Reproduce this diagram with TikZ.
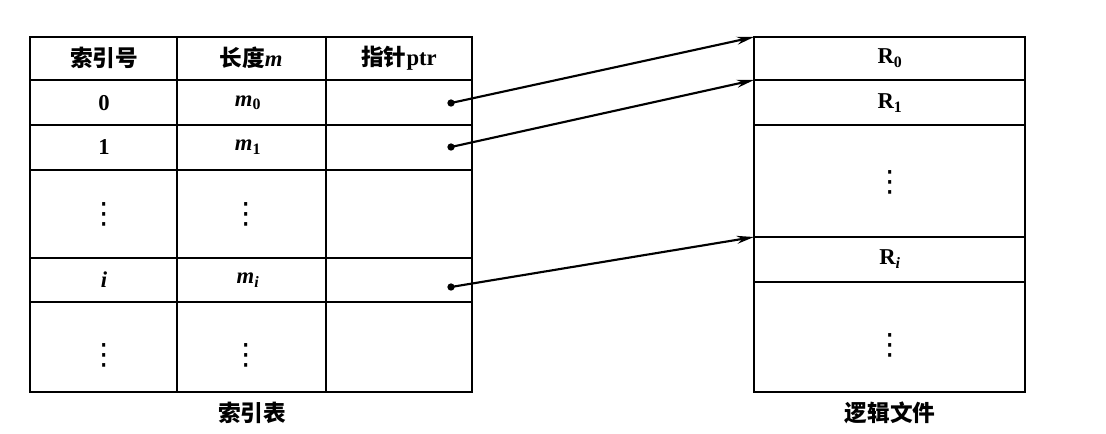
\documentclass[tikz,border=0pt]{standalone}
\usepackage{fontspec}
\setmainfont{Liberation Serif}
\newfontfamily\cjk{Noto Sans CJK SC}
\newfontfamily\symfont{DejaVu Sans}
\usetikzlibrary{arrows.meta}
\tikzset{every picture/.style={line width=0.75pt}}
\tikzset{
  cell/.style={inner sep=0.75pt, font=\fontsize{17}{19}\selectfont\bfseries},
  ptrdot/.style={circle, fill=black, inner sep=0pt, minimum size=5.5pt},
  ptrarrow/.style={line width=1.6, -{Stealth[length=13pt,width=6pt]}}
}
\newcommand{\mv}[1]{\textit{m}\textsubscript{#1}}
\newcommand{\vdotsx}{{\symfont\mdseries\fontsize{22}{24}\selectfont ⋮}}

\begin{document}
\begin{tikzpicture}[x=0.75pt,y=0.75pt,yscale=-1,xscale=1]
\useasboundingbox (0,0) rectangle (1106,433);

%Shape: Rectangle [index table]
\draw  [line width=2.2]  (30,37) -- (472,37) -- (472,392) -- (30,392) -- cycle ;
%Straight Lines [index table rows]
\draw [line width=1.5]   (30,80) -- (472,80) ;
\draw [line width=1.5]   (30,125) -- (472,125) ;
\draw [line width=1.5]   (30,170) -- (472,170) ;
\draw [line width=1.5]   (30,258) -- (472,258) ;
\draw [line width=1.5]   (30,302) -- (472,302) ;
%Straight Lines [index table columns]
\draw [line width=1.5]   (177,37) -- (177,392) ;
\draw [line width=1.5]   (326,37) -- (326,392) ;

%Shape: Rectangle [logic file]
\draw  [line width=2.2]  (754,37) -- (1025,37) -- (1025,392) -- (754,392) -- cycle ;
%Straight Lines [logic file records]
\draw [line width=1.5]   (754,80) -- (1025,80) ;
\draw [line width=1.5]   (754,125) -- (1025,125) ;
\draw [line width=1.5]   (754,237) -- (1025,237) ;
\draw [line width=1.5]   (754,282) -- (1025,282) ;

% record start points
\coordinate (rec0) at (754,37);
\coordinate (rec1) at (754,80);
\coordinate (reci) at (754,237);

% Text Node
\draw (104,58) node (hidx) [cell]   {\cjk 索引号};
% Text Node
\draw (251,58) node (hlen) [cell]   {{\cjk 长度}\textit{m}};
% Text Node
\draw (399,58) node (hptr) [cell]   {{\cjk 指针}ptr};
% Text Node
\draw (104,103) node (idx0) [cell]   {0};
% Text Node
\draw (248,103) node (len0) [cell]   {\mv{0}};
% Text Node
\draw (104,147) node (idx1) [cell]   {1};
% Text Node
\draw (248,147) node (len1) [cell]   {\mv{1}};
% Text Node
\draw (104,214) node (idxa) [cell]   {\vdotsx};
% Text Node
\draw (246,214) node (lena) [cell]   {\vdotsx};
% Text Node
\draw (104,280) node (idxi) [cell]   {\textit{i}};
% Text Node
\draw (248,280) node (leni) [cell]   {\mv{\textit{i}}};
% Text Node
\draw (104,355) node (idxb) [cell]   {\vdotsx};
% Text Node
\draw (246,355) node (lenb) [cell]   {\vdotsx};
% Text Node
\draw (252,413) node (tabcap) [cell]   {\cjk 索引表};

% Text Node
\draw (890,58) node (r0) [cell]   {R\textsubscript{0}};
% Text Node
\draw (890,103) node (r1) [cell]   {R\textsubscript{1}};
% Text Node
\draw (890,182) node (ra) [cell]   {\vdotsx};
% Text Node
\draw (890,259) node (ri) [cell]   {R\textsubscript{\textit{i}}};
% Text Node
\draw (890,345) node (rb) [cell]   {\vdotsx};
% Text Node
\draw (890,413) node (filecap) [cell]   {\cjk 逻辑文件};

% pointers
\draw (451,103) node (ptr0) [ptrdot] {};
\draw (451,147) node (ptr1) [ptrdot] {};
\draw (451,287) node (ptri) [ptrdot] {};
\draw [ptrarrow] (ptr0.center) -- (rec0) ;
\draw [ptrarrow] (ptr1.center) -- (rec1) ;
\draw [ptrarrow] (ptri.center) -- (reci) ;

\end{tikzpicture}
\end{document}
